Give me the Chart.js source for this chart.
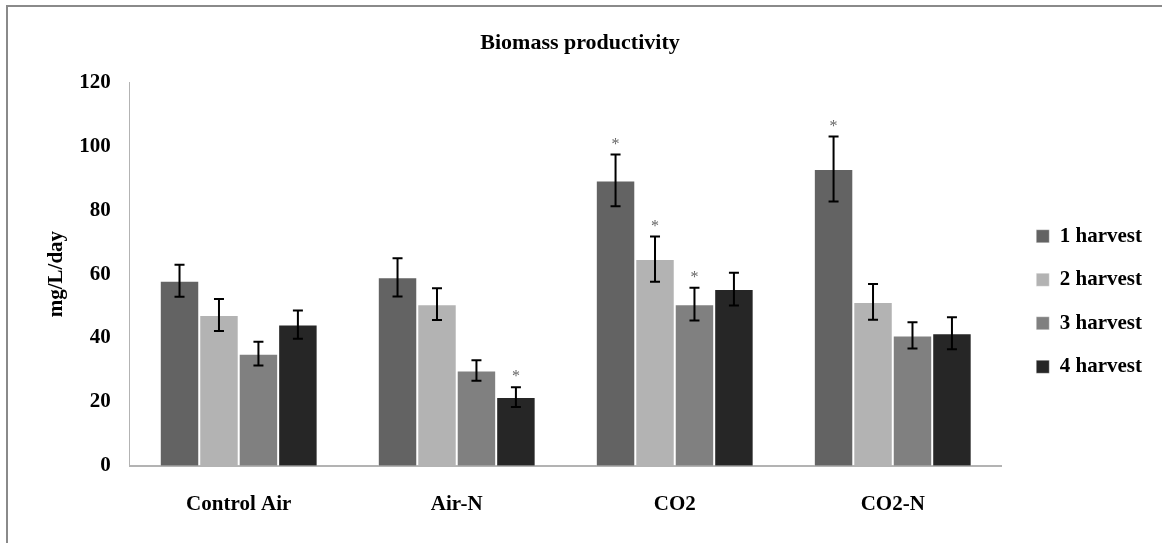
<!DOCTYPE html>
<html>
<head>
<meta charset="utf-8">
<script src="https://cdn.jsdelivr.net/npm/chart.js@4.4.1/dist/chart.umd.min.js"></script>
<style>
    html, body { margin: 0; padding: 0; background: #fff; overflow: hidden; }
    #wrap { position: relative; width: 1162px; height: 543px; }
    #frame {
        position: absolute; left: 6px; top: 5px; width: 1300px; height: 700px;
        border-top: 2px solid #8a8a8a; border-left: 2px solid #8a8a8a;
        pointer-events: none;
    }
</style>
</head>
<body>
<div id="wrap">
    <canvas id="biomass" width="1162" height="543"></canvas>
    <div id="frame"></div>
</div>
<script>
// Variables
var treatments = ['Control Air', 'Air-N', 'CO2', 'CO2-N']
var harvests = ['1 harvest', '2 harvest', '3 harvest', '4 harvest']
var harvest1 = [57.9, 59.0, 89.3, 92.9]
var harvest2 = [47.2, 50.6, 64.7, 51.3]
var harvest3 = [35.1, 29.8, 50.6, 40.8]
var harvest4 = [44.2, 21.5, 55.3, 41.5]
var err1 = [5.0, 6.0, 8.1, 10.2]
var err2 = [5.0, 5.0, 7.1, 5.6]
var err3 = [3.7, 3.2, 5.1, 4.1]
var err4 = [4.4, 3.1, 5.1, 5.0]
// significant differences marked with *
var star1 = [false, false, true, true]
var star2 = [false, false, true, false]
var star3 = [false, false, true, false]
var star4 = [false, true, false, false]
var yTicks = [0, 20, 40, 60, 80, 100, 120]

var colours = ['#636363', '#b3b3b3', '#808080', '#262626']
var values = [harvest1, harvest2, harvest3, harvest4]
var errors = [err1, err2, err3, err4]
var stars = [star1, star2, star3, star4]

var serif = "'Liberation Serif', 'DejaVu Serif', serif"

// error bars + asterisks on top of each bar
var errorBars = {
    id: 'errorBars',
    afterDatasetsDraw(chart) {
        var ctx = chart.ctx
        var y = chart.scales.y
        ctx.save()
        chart.data.datasets.forEach(function (ds, d) {
            var meta = chart.getDatasetMeta(d)
            meta.data.forEach(function (bar, i) {
                var v = ds.data[i]
                var e = errors[d][i]
                var top = y.getPixelForValue(v + e)
                var bot = y.getPixelForValue(v - e)
                ctx.strokeStyle = '#000'
                ctx.lineWidth = 2
                ctx.beginPath()
                ctx.moveTo(bar.x, top); ctx.lineTo(bar.x, bot)
                ctx.moveTo(bar.x - 5, top); ctx.lineTo(bar.x + 5, top)
                ctx.moveTo(bar.x - 5, bot); ctx.lineTo(bar.x + 5, bot)
                ctx.stroke()
                if (stars[d][i]) {
                    ctx.fillStyle = '#666'
                    ctx.font = '16px ' + serif
                    ctx.textAlign = 'center'
                    ctx.textBaseline = 'middle'
                    ctx.fillText('*', bar.x, top - 10)
                }
            })
        })
        ctx.restore()
    }
}

// nudge legend and title boxes after layout
var boxShift = {
    id: 'boxShift',
    afterLayout(chart) {
        var lg = chart.legend
        lg.left += 12; lg.right += 12
        lg.top += 30; lg.bottom += 30
        var tb = chart.titleBlock
        tb.left -= 12; tb.right -= 12
    }
}

var datasets = harvests.map(function (h, d) {
    return {
        label: h,
        data: values[d],
        backgroundColor: colours[d],
        borderColor: 'rgba(255,255,255,0.35)',
        borderWidth: 1,
        categoryPercentage: 0.724,
        barPercentage: 1.0,
    }
})

var ctx = document.getElementById('biomass').getContext('2d')
var barChart = new Chart(ctx, {
    type: 'bar',
    data: {
        labels: treatments,
        datasets: datasets,
    },
    options: {
        responsive: false,
        animation: false,
        layout: { padding: { left: 44, right: 22, top: 0, bottom: 0 } },
        plugins: {
            title: {
                display: true,
                text: 'Biomass productivity',
                color: '#000',
                font: { family: serif, size: 22, weight: 'bold' },
                padding: { top: 30, bottom: 26 },
            },
            legend: {
                position: 'right',
                labels: {
                    boxWidth: 13,
                    boxHeight: 13,
                    padding: 22.5,
                    color: '#000',
                    font: { family: serif, size: 21, weight: 'bold' },
                },
            },
            tooltip: { enabled: false },
        },
        scales: {
            x: {
                grid: { display: false, drawTicks: false },
                border: { display: true, color: '#b3b3b3', width: 2 },
                ticks: {
                    color: '#000',
                    padding: 26,
                    font: { family: serif, size: 21, weight: 'bold' },
                },
            },
            y: {
                min: 0,
                max: 120,
                afterBuildTicks: function (axis) {
                    axis.ticks = yTicks.map(function (v) { return { value: v } })
                },
                grid: { display: false, drawTicks: false },
                border: { display: true, color: '#b3b3b3', width: 1 },
                ticks: {
                    color: '#000',
                    padding: 19,
                    font: { family: serif, size: 21, weight: 'bold' },
                },
                title: {
                    display: true,
                    text: 'mg/L/day',
                    color: '#000',
                    font: { family: serif, size: 21, weight: 'bold' },
                    padding: { top: 0, bottom: -9 },
                },
            },
        },
    },
    plugins: [errorBars, boxShift],
})
</script>
</body>
</html>
